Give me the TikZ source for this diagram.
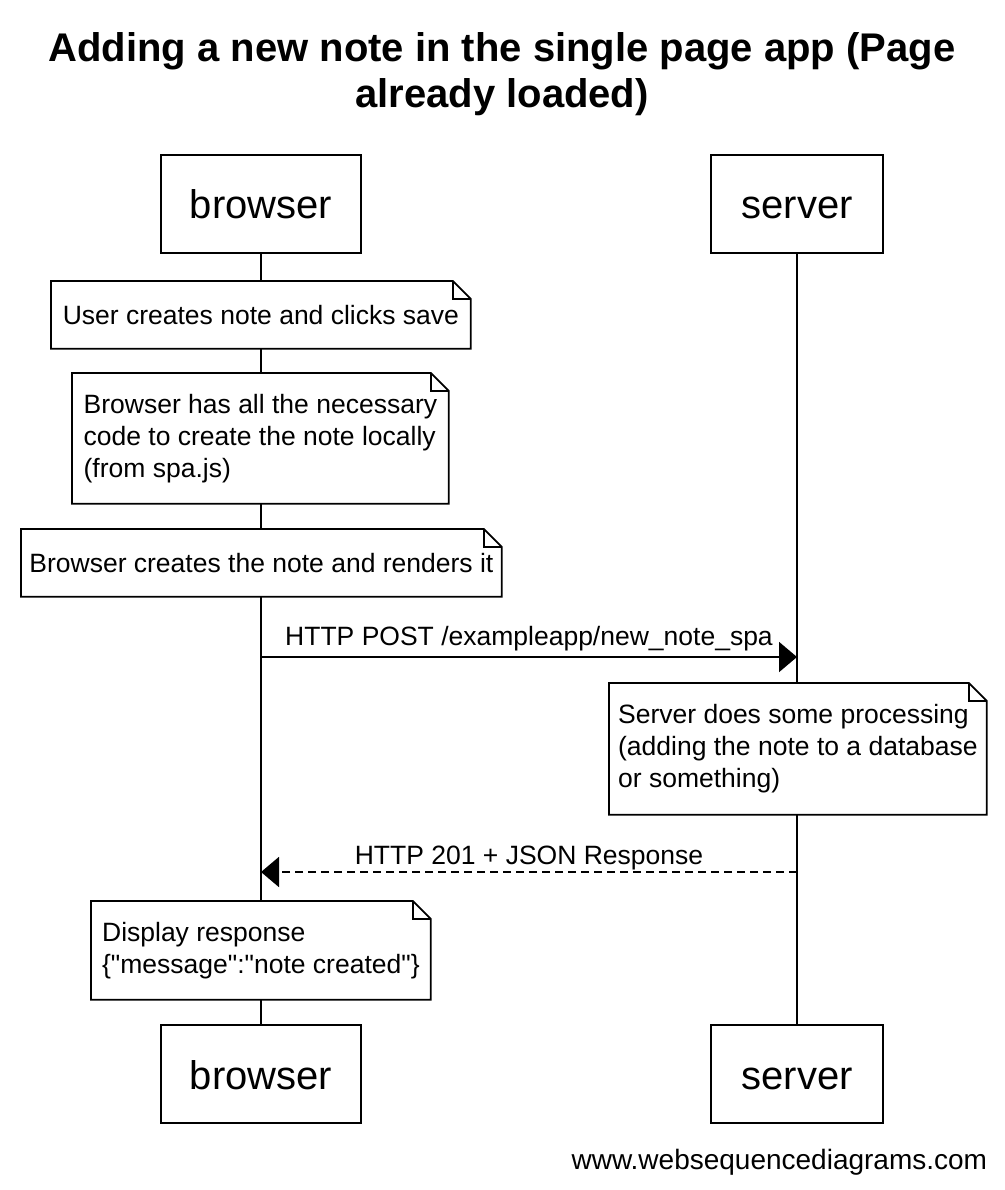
\documentclass[tikz,border=0pt]{standalone}
\usepackage{fontspec}
\setmainfont{Liberation Sans}
\newfontfamily\plainqfont{Liberation Sans}
\usetikzlibrary{arrows.meta}

% note outline with the folded corner
\newcommand{\dogear}[1]{%
	\draw (#1.north west) -- ([xshift=-18pt]#1.north east) -- ([yshift=-18pt]#1.north east) -- (#1.south east) -- (#1.south west) -- cycle;
	\draw ([xshift=-18pt]#1.north east) |- ([yshift=-18pt]#1.north east);}
\newcommand{\qt}{{\plainqfont\symbol{34}}}

\begin{document}
\begin{tikzpicture}[x=1pt,y=-1pt,line width=1.8pt,
		actor/.style={draw,fill=white,minimum height=98pt,inner sep=0pt,text height=33pt,text depth=3pt,font=\fontsize{40}{48}\selectfont},
		note/.style={fill=white,inner sep=0pt,align=left,anchor=north west,font=\fontsize{26.5}{32}\selectfont},
		msg/.style={-{Triangle[length=18pt,width=30pt]}},
		lbl/.style={inner sep=0pt,font=\fontsize{26.5}{32}\selectfont}]
		\useasboundingbox (0,0) rectangle (1004,1190);
		\node[align=center,font=\bfseries\fontsize{40}{46}\selectfont] (title) at (502,74) {Adding a new note in the single page app (Page\\already loaded)};
		\node[actor,minimum width=200pt] (browser) at (261,204) {browser};
		\node[actor,minimum width=172pt] (server) at (797,204) {server};
		\node[actor,minimum width=200pt] (browser2) at (261,1074) {browser};
		\node[actor,minimum width=172pt] (server2) at (797,1074) {server};
		\draw (browser) -- (browser2);
		\draw (server) -- (server2);
		\node[note,minimum width=418pt,minimum height=66pt] (save) at (51,281) {User creates note and clicks save};
		\dogear{save}
		\node[note,minimum width=375pt,minimum height=129pt] (code) at (72,373) {Browser has all the necessary\\code to create the note locally\\(from spa.js)};
		\dogear{code}
		\node[note,minimum width=479pt,minimum height=66pt] (render) at (21,529) {Browser creates the note and renders it};
		\dogear{render}
		\coordinate (post-b) at (261,657);
		\coordinate (post-s) at (797,657);
		\draw[msg] (post-b) -- node[lbl,above=5pt] {HTTP POST /exampleapp/new\_note\_spa} (post-s);
		\node[note,minimum width=376pt,minimum height=130pt] (process) at (609,683) {Server does some processing\\(adding the note to a database\\or something)};
		\dogear{process}
		\coordinate (resp-s) at (797,872);
		\coordinate (resp-b) at (261,872);
		\draw[msg,dash pattern=on 8pt off 5pt] (resp-s) -- node[lbl,above=1pt] {HTTP 201 + JSON Response} (resp-b);
		\node[note,minimum width=338pt,minimum height=97pt] (display) at (91,901) {Display response\\\{\qt message\qt:\qt note created\qt\}};
		\dogear{display}
		\node[anchor=base east,inner sep=0pt,font=\fontsize{28}{34}\selectfont] (credit) at (988,1169) {www.websequencediagrams.com};
\end{tikzpicture}
\end{document}
